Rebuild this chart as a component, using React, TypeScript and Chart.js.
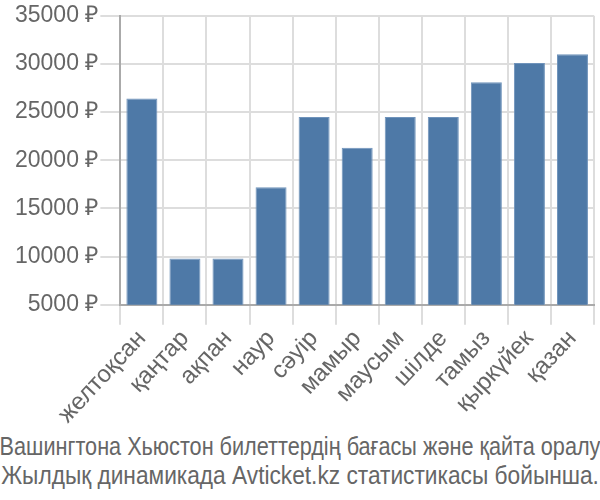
import React, { useEffect, useRef } from 'react';
import { Chart, registerables, ChartConfiguration } from 'chart.js';

Chart.register(...registerables);

const months = [
  'желтоқсан', 'қаңтар', 'ақпан', 'наур', 'сәуір', 'мамыр',
  'маусым', 'шілде', 'тамыз', 'қыркүйек', 'қазан',
];
const prices = [26400, 9800, 9800, 17200, 24500, 21300, 24500, 24500, 28100, 30100, 31000];
const captionLines = [
  'Вашингтона Хьюстон билеттердің бағасы және қайта оралу',
  'Жылдық динамикада Avticket.kz статистикасы бойынша.',
];
// horizontal squeeze of each caption line, so both fill the width
const captionScale = [0.866, 0.908];

const App: React.FC = () => {
  const canvasRef = useRef<HTMLCanvasElement>(null);
  const chartRef = useRef<Chart | null>(null);

  useEffect(() => {
    if (!canvasRef.current) return;
    if (chartRef.current) chartRef.current.destroy();

    const config: ChartConfiguration = {
      type: 'bar',
      data: {
        labels: months,
        datasets: [
          {
            data: prices,
            backgroundColor: '#4e79a7',
            borderColor: '#6f93bb',
            borderWidth: 1,
            categoryPercentage: 1,
            barPercentage: 0.72,
          },
        ],
      },
      options: {
        responsive: false,
        animation: false,
        layout: { padding: { top: 4, right: 6, left: 13, bottom: 0 } },
        plugins: {
          legend: { display: false },
          tooltip: { enabled: false },
        },
        scales: {
          y: {
            min: 5000,
            max: 35000,
            border: { color: '#aaaaaa', width: 2 },
            grid: { color: '#dddddd', lineWidth: 2, tickLength: 20 },
            ticks: {
              stepSize: 5000,
              padding: 2,
              color: '#666666',
              font: { family: 'Arial, "Liberation Sans"', size: 23 },
              callback: (value) => value + ' ₽',
            },
          },
          x: {
            border: { color: '#aaaaaa', width: 2 },
            grid: { color: '#dddddd', lineWidth: 2, tickLength: 20, offset: true },
            ticks: {
              autoSkip: false,
              minRotation: 47,
              maxRotation: 47,
              padding: 0,
              color: '#666666',
              font: { family: 'Arial, "Liberation Sans"', size: 24 },
            },
          },
        },
      },
    };

    chartRef.current = new Chart(canvasRef.current, config);
    return () => {
      if (chartRef.current) {
        chartRef.current.destroy();
        chartRef.current = null;
      }
    };
  }, []);

  return (
    <div style={{ position: 'absolute', left: 0, top: 0, width: 600, height: 500, background: '#fff', overflow: 'hidden' }}>
      <canvas ref={canvasRef} width={600} height={429} style={{ display: 'block' }} />
      <div
        style={{
          position: 'absolute',
          left: 0,
          top: 432,
          width: 600,
          fontFamily: 'Arial, "Liberation Sans"',
          fontSize: 25,
          lineHeight: '29px',
          color: '#666666',
          whiteSpace: 'nowrap',
        }}
      >
        {captionLines.map((line, i) => (
          <div
            key={line}
            style={{
              display: 'flex',
              justifyContent: 'center',
              transform: `scaleX(${captionScale[i]})`,
              transformOrigin: '300px 0',
            }}
          >
            <span>{line}</span>
          </div>
        ))}
      </div>
    </div>
  );
};

export default App;
